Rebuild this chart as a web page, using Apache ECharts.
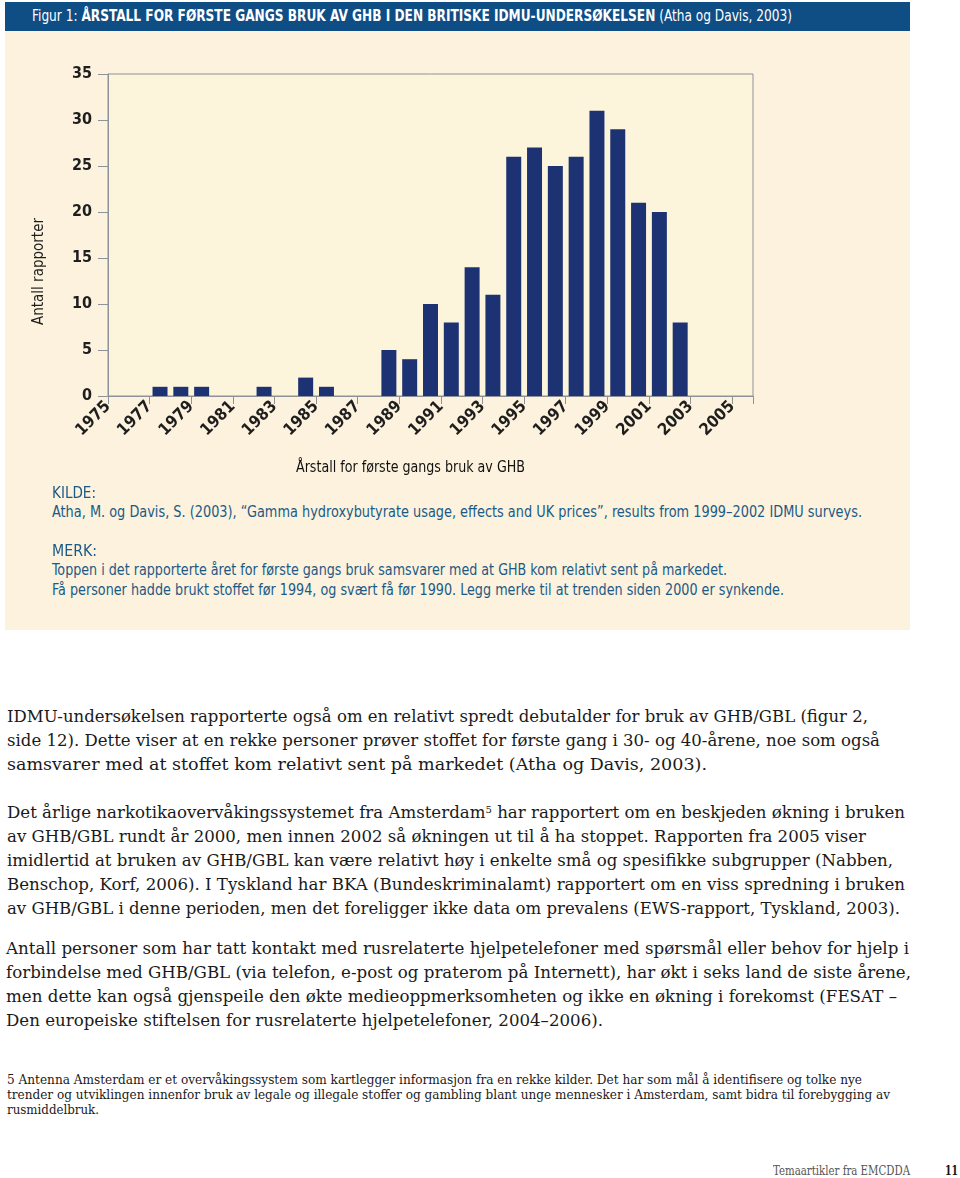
<!DOCTYPE html>
<html>
<head>
<meta charset="utf-8">
<script src="https://cdn.jsdelivr.net/npm/echarts@6/dist/echarts.min.js"></script>
<style>
  html, body { margin:0; padding:0; background:#ffffff; }
  body { width:960px; height:1178px; position:relative; overflow:hidden; }
  #hdr { position:absolute; left:5px; top:2px; width:905px; height:29px; background:#0f4d85; }
  #panel { position:absolute; left:5px; top:31px; width:905px; height:599px; background:#fcf2dd; }
  #chart { position:absolute; left:5px; top:32px; width:905px; height:470px; }
  .ln { position:absolute; white-space:nowrap; transform-origin:0 50%; }
  .hd { font-family:"Liberation Sans Narrow","DejaVu Sans Condensed",sans-serif; font-size:15px; color:#ffffff; }
  .ck { font-family:"Liberation Sans Narrow","DejaVu Sans Condensed",sans-serif; font-size:15.5px; color:#1b5a86; }
  .bd { font-family:"DejaVu Serif","Liberation Serif",serif; font-size:16.5px; color:#1a1a1a; }
  .fn { font-family:"DejaVu Serif","Liberation Serif",serif; font-size:12px; color:#1a1a1a; }
  .ft { font-family:"DejaVu Serif","Liberation Serif",serif; font-size:13px; color:#555; }
  .pg { font-family:"DejaVu Serif","Liberation Serif",serif; font-size:13px; color:#111; font-weight:bold; }
  sup { font-size:10px; vertical-align:5px; }
</style>
</head>
<body>
<div id="hdr"></div>
<div id="panel"></div>
<div id="chart"></div>
<div id="texts"></div>
<script>
// ---- chart data ----
const years = ['1975','1976','1977','1978','1979','1980','1981','1982','1983','1984','1985','1986','1987','1988','1989','1990',
               '1991','1992','1993','1994','1995','1996','1997','1998','1999','2000','2001','2002','2003','2004','2005'];
const reports = [0,0,1,1,1,0,0,1,0,2,1,0,0,5,4,10,8,14,11,26,27,25,26,31,29,21,20,8,0,0,0];
// tick labels sit on the year boundaries (1975 ... 2006), every second one shown
const tickYears = ['1975','1976','1977','1978','1979','1980','1981','1982','1983','1984','1985','1986','1987','1988','1989','1990',
               '1991','1992','1993','1994','1995','1996','1997','1998','1999','2000','2001','2002','2003','2004','2005','2006'];
const yTicks = [0,5,10,15,20,25,30,35];
const yTitle = 'Antall rapporter';
const xTitle = 'Årstall for første gangs bruk av GHB';

// ---- page text (line by line as in the reference) ----
const lines = [
  {c:'hd', x:32, y:16, w:760, html:'Figur 1: <b>ÅRSTALL FOR FØRSTE GANGS BRUK AV GHB I DEN BRITISKE IDMU-UNDERSØKELSEN</b> (Atha og Davis, 2003)'},
  {c:'ck', x:52, y:493, w:44, html:'KILDE:'},
  {c:'ck', x:52, y:512, w:810, html:'Atha, M. og Davis, S. (2003), “Gamma hydroxybutyrate usage, effects and UK prices”, results from 1999–2002 IDMU surveys.'},
  {c:'ck', x:52, y:551, w:45, html:'MERK:'},
  {c:'ck', x:52, y:570, w:675, html:'Toppen i det rapporterte året for første gangs bruk samsvarer med at GHB kom relativt sent på markedet.'},
  {c:'ck', x:52, y:590, w:732, html:'Få personer hadde brukt stoffet før 1994, og svært få før 1990. Legg merke til at trenden siden 2000 er synkende.'},
  {c:'bd', x:7, y:716, w:861, html:'IDMU-undersøkelsen rapporterte også om en relativt spredt debutalder for bruk av GHB/GBL (figur 2,'},
  {c:'bd', x:7, y:740, w:873, html:'side 12). Dette viser at en rekke personer prøver stoffet for første gang i 30- og 40-årene, noe som også'},
  {c:'bd', x:7, y:764, w:700, html:'samsvarer med at stoffet kom relativt sent på markedet (Atha og Davis, 2003).'},
  {c:'bd', x:7, y:812, w:898, html:'Det årlige narkotikaovervåkingssystemet fra Amsterdam<sup>5</sup> har rapportert om en beskjeden økning i bruken'},
  {c:'bd', x:7, y:836, w:859, html:'av GHB/GBL rundt år 2000, men innen 2002 så økningen ut til å ha stoppet. Rapporten fra 2005 viser'},
  {c:'bd', x:7, y:860, w:886, html:'imidlertid at bruken av GHB/GBL kan være relativt høy i enkelte små og spesifikke subgrupper (Nabben,'},
  {c:'bd', x:7, y:884, w:898, html:'Benschop, Korf, 2006). I Tyskland har BKA (Bundeskriminalamt) rapportert om en viss spredning i bruken'},
  {c:'bd', x:7, y:908, w:893, html:'av GHB/GBL i denne perioden, men det foreligger ikke data om prevalens (EWS-rapport, Tyskland, 2003).'},
  {c:'bd', x:6, y:948, w:903, html:'Antall personer som har tatt kontakt med rusrelaterte hjelpetelefoner med spørsmål eller behov for hjelp i'},
  {c:'bd', x:6, y:972, w:905, html:'forbindelse med GHB/GBL (via telefon, e-post og praterom på Internett), har økt i seks land de siste årene,'},
  {c:'bd', x:6, y:996, w:891, html:'men dette kan også gjenspeile den økte medieoppmerksomheten og ikke en økning i forekomst (FESAT –'},
  {c:'bd', x:6, y:1020, w:597, html:'Den europeiske stiftelsen for rusrelaterte hjelpetelefoner, 2004–2006).'},
  {c:'fn', x:7, y:1080, w:855, html:'5 Antenna Amsterdam er et overvåkingssystem som kartlegger informasjon fra en rekke kilder. Det har som mål å identifisere og tolke nye'},
  {c:'fn', x:7, y:1095, w:883, html:'trender og utviklingen innenfor bruk av legale og illegale stoffer og gambling blant unge mennesker i Amsterdam, samt bidra til forebygging av'},
  {c:'fn', x:7, y:1110, w:92, html:'rusmiddelbruk.'},
  {c:'ft', x:773, y:1170, w:137, html:'Temaartikler fra EMCDDA'},
  {c:'pg', x:945, y:1170, w:13, html:'11'}
];
const host = document.getElementById('texts');
lines.forEach(function (L) {
  const d = document.createElement('div');
  d.className = 'ln ' + L.c;
  d.innerHTML = L.html;
  host.appendChild(d);
  const r = d.getBoundingClientRect();
  d.style.left = L.x + 'px';
  d.style.top = (L.y - r.height / 2) + 'px';
  d.style.transform = 'scaleX(' + (L.w / r.width) + ')';
});

// ---- chart ----
const chart = echarts.init(document.getElementById('chart'), null, {renderer:'canvas'});
const axisGray = '#8c9298';
const labelFont = '"DejaVu Sans Condensed","DejaVu Sans",sans-serif';
const titleFont = '"Liberation Sans Narrow","DejaVu Sans Condensed",sans-serif';
chart.setOption({
  animation:false,
  grid:{left:103, top:42, width:645, height:322, show:true, borderColor:axisGray, borderWidth:1, backgroundColor:'#fdf4dc'},
  xAxis:[
    {type:'category', data:years, boundaryGap:true, position:'bottom',
     axisLine:{lineStyle:{color:axisGray, width:1}},
     axisTick:{show:true, length:8, lineStyle:{color:axisGray}},
     axisLabel:{show:false}, splitLine:{show:false}},
    {type:'category', data:tickYears, boundaryGap:false, position:'bottom',
     axisLine:{show:false}, axisTick:{show:false}, splitLine:{show:false},
     axisLabel:{show:true, interval:1, rotate:45, margin:8, fontFamily:labelFont, fontWeight:'bold', fontSize:16.5, color:'#1e1e1e'}}
  ],
  yAxis:{type:'value', min:yTicks[0], max:yTicks[yTicks.length-1], interval:5,
     axisLine:{show:true, lineStyle:{color:axisGray, width:1}},
     axisTick:{show:true, length:10, lineStyle:{color:axisGray}},
     splitLine:{show:false},
     axisLabel:{margin:16, fontFamily:labelFont, fontWeight:'bold', fontSize:16, color:'#1e1e1e'}},
  graphic:[
    {type:'text', left:27, top:186, rotation:Math.PI/2,
     style:{text:yTitle, font:'15px ' + titleFont, fill:'#1e1e1e'}},
    {type:'text', x:291, y:428, scaleX:0.88,
     style:{text:xTitle, font:'16px ' + titleFont, fill:'#111'}}
  ],
  series:[{type:'bar', xAxisIndex:0, data:reports, barCategoryGap:'28%',
     itemStyle:{color:'#1c3273'}}]
});
</script>
</body>
</html>
